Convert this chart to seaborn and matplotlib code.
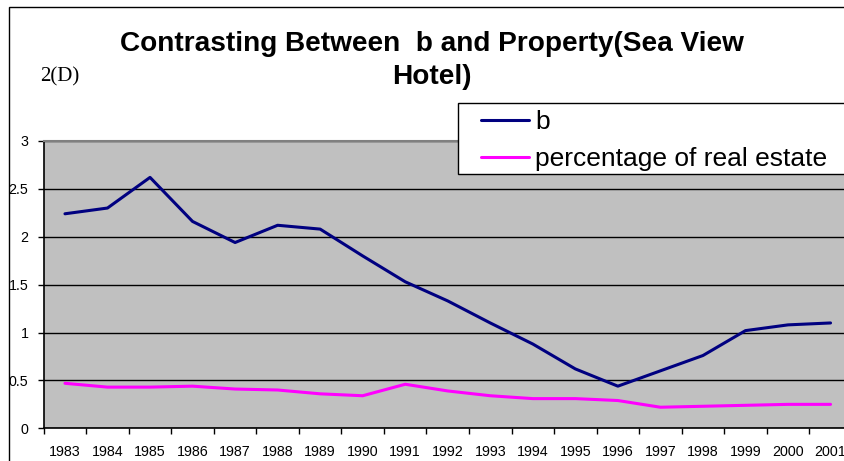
import matplotlib
matplotlib.use("Agg")
import matplotlib.pyplot as plt
import seaborn as sns
import pandas as pd
from matplotlib.patches import Rectangle
from matplotlib.lines import Line2D

# ---- data ----
years = ["1983", "1984", "1985", "1986", "1987", "1988", "1989", "1990", "1991", "1992",
         "1993", "1994", "1995", "1996", "1997", "1998", "1999", "2000", "2001"]
b_values = [2.24, 2.30, 2.62, 2.16, 1.94, 2.12, 2.08, 1.80, 1.53, 1.33,
            1.10, 0.88, 0.62, 0.44, 0.60, 0.76, 1.02, 1.08, 1.10]
re_values = [0.47, 0.43, 0.43, 0.44, 0.41, 0.40, 0.36, 0.34, 0.46, 0.39,
             0.34, 0.31, 0.31, 0.29, 0.22, 0.23, 0.24, 0.25, 0.25]
series_names = ["b", "percentage of real estate"]
series_colors = ["#000080", "#FF00FF"]
y_ticks = [0, 0.5, 1, 1.5, 2, 2.5, 3]
y_tick_labels = ["0", "0.5", "1", "1.5", "2", "2.5", "3"]
title_text = "Contrasting Between  b and Property(Sea View\nHotel)"
corner_text = "2(D)"

sns.set_theme(style="ticks")
plt.rcParams["font.family"] = ["Liberation Sans", "DejaVu Sans"]
plt.rcParams["text.color"] = "black"
plt.rcParams["xtick.color"] = "black"
plt.rcParams["ytick.color"] = "black"
plt.rcParams["axes.labelcolor"] = "black"

W, H = 844, 461
fig = plt.figure(figsize=(W / 100, H / 100), dpi=100)

def fx(px):
    return px / W

def fy(py):
    return 1 - py / H

left, right, top, bottom = 43.7, 851.8, 141.0, 428.3
ax = fig.add_axes([fx(left), fy(bottom), fx(right) - fx(left), fy(top) - fy(bottom)])
ax.set_facecolor("#C0C0C0")

positions = list(range(len(years)))
df = pd.DataFrame({
    "pos": positions * 2,
    "value": b_values + re_values,
    "series": [series_names[0]] * len(years) + [series_names[1]] * len(years),
})
sns.lineplot(data=df, x="pos", y="value", hue="series",
             palette=dict(zip(series_names, series_colors)),
             linewidth=2.2, ax=ax, legend=False)

ax.set_xlim(-0.5, len(years) - 0.5)
ax.set_ylim(0, 3)
ax.set_xlabel("")
ax.set_ylabel("")

ax.set_xticks(positions)
ax.set_xticklabels(years, fontsize=10.3, color="black")
ax.set_xticks([p - 0.5 for p in positions] + [len(years) - 0.5], minor=True)
ax.tick_params(axis="x", which="major", length=0, pad=12)
ax.tick_params(axis="x", which="minor", length=4, width=1, color="black", direction="out")

ax.set_yticks(y_ticks)
ax.set_yticklabels(y_tick_labels, fontsize=10.3, color="black")
ax.tick_params(axis="y", length=4, width=1, color="black", direction="out", pad=7)

ax.yaxis.grid(True, color="black", linewidth=1)
ax.xaxis.grid(False)
ax.set_axisbelow(True)

for s in ["left", "bottom"]:
    ax.spines[s].set_color("black")
    ax.spines[s].set_linewidth(1.2)
ax.spines["top"].set_color("#808080")
ax.spines["top"].set_linewidth(1.5)
ax.spines["right"].set_visible(False)

# chart outer frame
frame = Rectangle((fx(9), -0.1), 1.5, fy(7) + 0.1, transform=fig.transFigure,
                  fill=False, edgecolor="black", linewidth=1, zorder=3)
fig.add_artist(frame)

# title
fig.text(0.5115, fy(31), title_text, ha="center", va="top", fontsize=20.2,
         fontweight="bold", linespacing=1.33, color="black",
         family=["Liberation Sans", "DejaVu Sans"])
fig.text(fx(40), fy(77), corner_text, ha="left", va="center", fontsize=15,
         color="black", family=["Liberation Serif", "DejaVu Serif"])

# legend box
lb_top, lb_bot, lb_left = 102.7, 174.3, 457.7
box = Rectangle((fx(lb_left), fy(lb_bot)), 1.0, fy(lb_top) - fy(lb_bot),
                transform=fig.transFigure, facecolor="white", edgecolor="black",
                linewidth=1, zorder=8)
fig.add_artist(box)

handles = [Line2D([], [], color=c, linewidth=2.2) for c in series_colors]
leg = fig.legend(handles, series_names, loc="upper left",
                 bbox_to_anchor=(fx(481), fy(110)), frameon=False,
                 fontsize=19, handlelength=1.8, handletextpad=0.25,
                 borderpad=0, labelspacing=0.5, borderaxespad=0)
leg.set_zorder(10)
for t in leg.get_texts():
    t.set_color("black")

fig.savefig("out.png", dpi=100)
